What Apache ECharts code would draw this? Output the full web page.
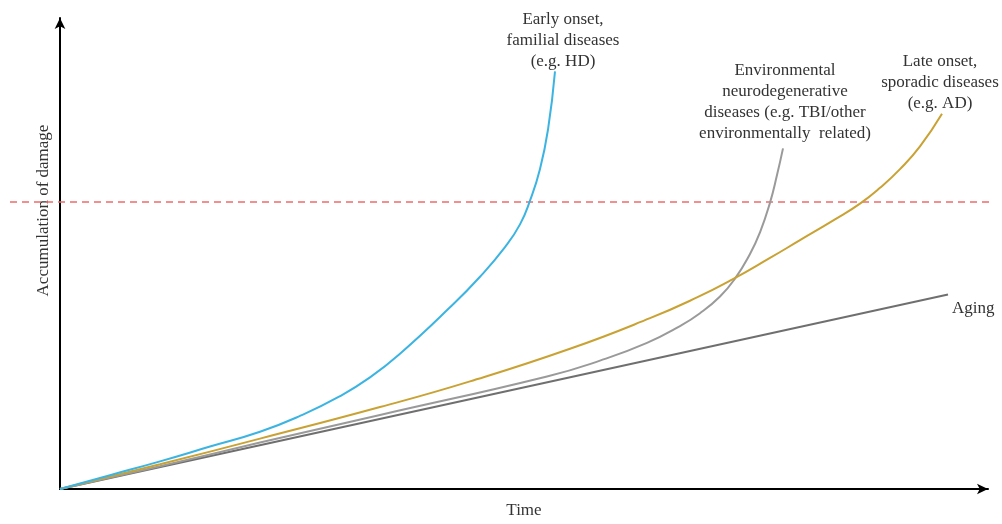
<!DOCTYPE html>
<html>
<head>
<meta charset="utf-8">
<script src="https://cdn.jsdelivr.net/npm/echarts@6/dist/echarts.min.js"></script>
<style>
  html, body { margin: 0; padding: 0; background: #ffffff; }
  #chart { width: 1002px; height: 524px; }
</style>
</head>
<body>
<div id="chart"></div>
<script>
// Time (x) and accumulated damage (y) for each trajectory, in arbitrary units
const earlyX = [0, 50, 100, 150, 200, 240, 280, 310, 340, 390, 420, 445, 460, 470, 480, 488, 495];
const earlyY = [0, 14, 28, 43, 58, 74, 94, 113, 137, 184, 215, 245, 268, 292, 324, 364, 423];

const lateX = [0, 100, 200, 320, 410, 510, 590, 637, 672, 710, 740, 775, 800, 820, 840, 860, 882];
const lateY = [0, 25, 51, 83, 109, 142, 173, 194, 212, 234, 252, 273, 289, 305, 324, 347, 380];

const envX = [0, 100, 200, 320, 487, 540, 587, 620, 640, 660, 675, 690, 700, 710, 717, 723];
const envY = [0, 23, 47, 75, 114, 130, 148, 165, 178, 195, 213, 238, 260, 290, 318, 345];

const agingX = [0, 888];
const agingY = [0, 197];

// Disease threshold level
const threshold = 293;

const xMax = 928;
const yMax = 477;

const earlyLabel = 'Early onset,\nfamilial diseases\n(e.g. HD)';
const envLabel = 'Environmental\nneurodegenerative\ndiseases (e.g. TBI/other\nenvironmentally  related)';
const lateLabel = 'Late onset,\nsporadic diseases\n(e.g. AD)';
const agingLabel = 'Aging';

const FONT = '"Liberation Serif", "DejaVu Serif", serif';
const TEXT_COLOR = '#333333';

function pairs(xs, ys) {
  return xs.map((x, i) => [x, ys[i]]);
}

function endMark(xs, ys, text, pos, offset, align) {
  const n = xs.length - 1;
  return {
    symbol: 'circle',
    symbolSize: 0,
    silent: true,
    data: [{ coord: [xs[n], ys[n]] }],
    label: {
      show: true,
      position: pos,
      distance: 4,
      offset: offset,
      formatter: text,
      align: align || 'center',
      fontFamily: FONT,
      fontSize: 17,
      lineHeight: 21,
      color: TEXT_COLOR
    }
  };
}

const chart = echarts.init(document.getElementById('chart'), null, { renderer: 'canvas' });

chart.setOption({
  animation: false,
  backgroundColor: '#ffffff',
  grid: [
    { left: 60, right: 14, top: 18, bottom: 29 },
    { left: 10, right: 12, top: 18, bottom: 29 }
  ],
  xAxis: [
    {
      type: 'value', gridIndex: 0, min: 0, max: xMax,
      name: 'Time', nameLocation: 'middle', nameGap: 13,
      nameTextStyle: { fontFamily: FONT, fontSize: 17, color: TEXT_COLOR },
      axisLine: { show: true, onZero: false, symbol: ['none', 'arrow'], symbolSize: [8, 11],
        lineStyle: { color: '#000000', width: 2 } },
      axisTick: { show: false }, axisLabel: { show: false }, splitLine: { show: false }
    },
    {
      type: 'value', gridIndex: 1, min: 0, max: 1, show: false
    }
  ],
  yAxis: [
    {
      type: 'value', gridIndex: 0, min: 0, max: yMax,
      name: 'Accumulation of damage', nameLocation: 'middle', nameGap: 8, nameRotate: 90,
      nameTextStyle: { fontFamily: FONT, fontSize: 17, color: TEXT_COLOR, padding: [0, 0, 0, 86] },
      axisLine: { show: true, onZero: false, symbol: ['none', 'arrow'], symbolSize: [8, 11],
        lineStyle: { color: '#000000', width: 2 } },
      axisTick: { show: false }, axisLabel: { show: false }, splitLine: { show: false }
    },
    {
      type: 'value', gridIndex: 1, min: 0, max: yMax, show: false
    }
  ],
  series: [
    {
      name: 'Threshold',
      type: 'line',
      xAxisIndex: 1, yAxisIndex: 1,
      data: [[0, threshold], [1, threshold]],
      symbol: 'none',
      lineStyle: { color: '#ee6b6b', width: 1.5, type: [7, 5] },
      z: 1
    },
    {
      name: 'Aging',
      type: 'line',
      data: pairs(agingX, agingY),
      symbol: 'none',
      lineStyle: { color: '#6f6f6f', width: 2 },
      markPoint: endMark(agingX, agingY, agingLabel, 'right', [0, 14], 'left'),
      z: 3
    },
    {
      name: 'Environmental',
      type: 'line',
      data: pairs(envX, envY),
      symbol: 'none',
      smooth: 0.5,
      lineStyle: { color: '#9a9a9a', width: 2 },
      markPoint: endMark(envX, envY, envLabel, 'top', [2, 0]),
      z: 3
    },
    {
      name: 'Late onset',
      type: 'line',
      data: pairs(lateX, lateY),
      symbol: 'none',
      smooth: 0.5,
      lineStyle: { color: '#c9a233', width: 2 },
      markPoint: endMark(lateX, lateY, lateLabel, 'top', [-2, 4]),
      z: 4
    },
    {
      name: 'Early onset',
      type: 'line',
      data: pairs(earlyX, earlyY),
      symbol: 'none',
      smooth: 0.5,
      lineStyle: { color: '#3cb4e2', width: 2 },
      markPoint: endMark(earlyX, earlyY, earlyLabel, 'top', [8, 5]),
      z: 5
    }
  ]
});
</script>
</body>
</html>
